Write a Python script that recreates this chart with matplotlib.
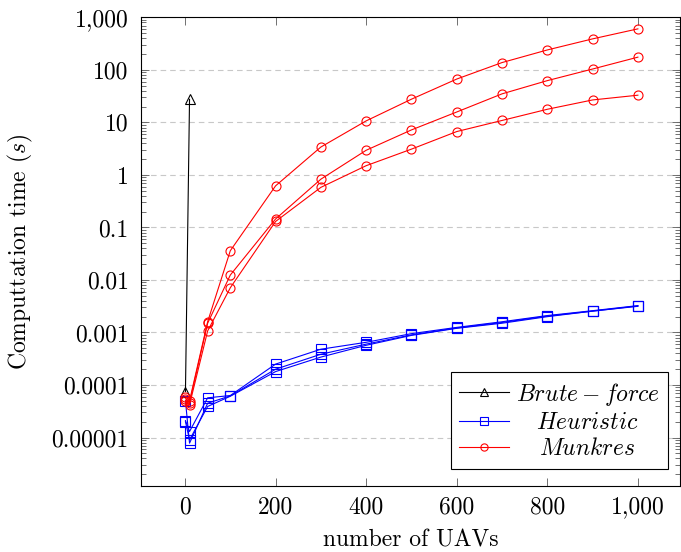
"""
Computation time vs number of UAVs (log scale), three assignment methods.
"""

import matplotlib
matplotlib.use("Agg")
import matplotlib.pyplot as plt
import matplotlib.transforms as mtransforms

plt.rcParams["font.family"] = "serif"
plt.rcParams["font.serif"] = ["cmr10"]
plt.rcParams["mathtext.fontset"] = "cm"
plt.rcParams["axes.formatter.use_mathtext"] = True
plt.rcParams["font.size"] = 17

# data
n_uavs = [1, 10, 50, 100, 200, 300, 400, 500, 600, 700, 800, 900, 1000]

brute_x = [1, 10]
brute_time = [7.5e-5, 27.5]

heuristic_times = [
    [2.1e-5, 1.3e-5, 5.7e-5, 6.3e-5, 2.5e-4, 4.8e-4, 6.5e-4, 9.5e-4, 1.25e-3, 1.6e-3, 2.1e-3, 2.6e-3, 3.25e-3],
    [5.0e-5, 7.8e-6, 4.5e-5, 6.2e-5, 2.0e-4, 3.85e-4, 6.0e-4, 9.0e-4, 1.22e-3, 1.55e-3, 2.05e-3, 2.55e-3, 3.2e-3],
    [2.0e-5, 9.0e-6, 3.9e-5, 6.1e-5, 1.8e-4, 3.4e-4, 5.7e-4, 8.8e-4, 1.2e-3, 1.5e-3, 2.0e-3, 2.55e-3, 3.15e-3],
]

munkres_times = [
    [6.0e-5, 5.0e-5, 1.6e-3, 0.036, 0.62, 3.4, 10.7, 27.7, 67, 138, 240, 390, 605],
    [5.5e-5, 4.6e-5, 1.5e-3, 0.0124, 0.145, 0.83, 2.95, 7.2, 15.8, 35, 62.5, 104, 175],
    [5.0e-5, 4.2e-5, 1.07e-3, 0.0071, 0.13, 0.58, 1.5, 3.1, 6.7, 10.9, 17.8, 26.8, 33],
]

x_ticks = [0, 200, 400, 600, 800, 1000]
x_tick_labels = ["0", "200", "400", "600", "800", "1,000"]
y_ticks = [1e3, 1e2, 1e1, 1, 0.1, 0.01, 0.001, 0.0001, 0.00001]
y_tick_labels = ["1,000", "100", "10", "1", "0.1", "0.01", "0.001", "0.0001", "0.00001"]

fig = plt.figure(figsize=(6.81, 5.52), dpi=100)
ax = fig.add_axes([141.3 / 681, 1 - 485.5 / 552, (680 - 141.3) / 681, (485.5 - 17.4) / 552])

line_kw = dict(lw=0.8, mew=0.8, mfc="none")
ax.plot(brute_x, brute_time, color="black", marker="^", ms=7, label="$Brute-force$", **line_kw)
for i, t in enumerate(heuristic_times):
    ax.plot(n_uavs, t, color="blue", marker="s", ms=6.5,
            label="$Heuristic$" if i == 0 else None, **line_kw)
for i, t in enumerate(munkres_times):
    ax.plot(n_uavs, t, color="red", marker="o", ms=6.5,
            label="$Munkres$" if i == 0 else None, **line_kw)

ax.set_yscale("log")
ax.set_xlim(-96.5, 1093)
ax.set_ylim(10 ** -5.914, 1000)
ax.set_xticks(x_ticks)
ax.set_xticklabels(x_tick_labels)
ax.set_yticks(y_ticks)
ax.set_yticklabels(y_tick_labels)
ax.minorticks_on()
ax.xaxis.set_minor_locator(matplotlib.ticker.NullLocator())

ax.tick_params(which="both", direction="in", top=True, right=True, color="0.35", width=0.6)
ax.tick_params(which="major", length=6)
ax.tick_params(which="minor", length=3.5)
ax.tick_params(axis="y", pad=9)
ax.tick_params(axis="x", pad=8)
for s in ax.spines.values():
    s.set_linewidth(0.8)

ax.yaxis.grid(True, which="major", color="#c8c8c8", linestyle=(0, (5, 3.6)), lw=0.8)
ax.set_axisbelow(True)

ax.set_xlabel("number of UAVs", labelpad=8)
ax.set_ylabel("Computtation time ($s$)")
ax.yaxis.set_label_coords(-0.197, 0.5)

leg = ax.legend(loc="lower right", bbox_to_anchor=(0.9777, 0.0362), borderaxespad=0,
                fancybox=False, edgecolor="black", framealpha=1, handlelength=2.1,
                handletextpad=0.3, labelspacing=0.18, borderpad=0.35, markerscale=0.8)
leg.get_frame().set_linewidth(0.8)

# center legend texts like pgfplots does
fig.canvas.draw()
texts = leg.get_texts()
widths = [t.get_window_extent().width for t in texts]
maxw = max(widths)
for t, w in zip(texts, widths):
    t.set_transform(t.get_transform() + mtransforms.Affine2D().translate((maxw - w) / 2, 0))

fig.savefig("out.png", dpi=100)
